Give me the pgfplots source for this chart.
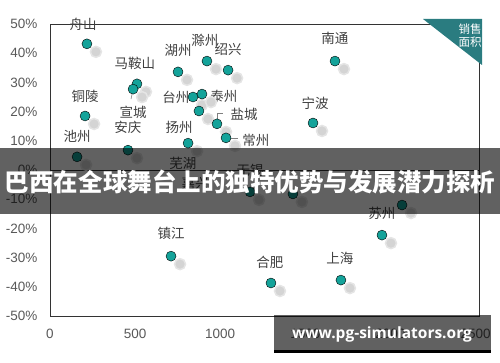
\documentclass[border=0pt]{standalone}
\usepackage{fontspec}
\usepackage{pgfplots}
\pgfplotsset{compat=1.18}
\setmainfont{Liberation Sans}
\newfontfamily\cjk{Noto Sans CJK SC}
\newfontfamily\wm{Open Sans}
\definecolor{dot}{HTML}{14A39A}
\definecolor{tri}{HTML}{2A7C80}
\definecolor{txt}{HTML}{404040}
\definecolor{ticktxt}{HTML}{595959}
\definecolor{shad}{HTML}{D4D4D4}
\tikzset{lbl/.style={font=\cjk\fontsize{13.5}{14}\selectfont, text=txt, inner sep=0pt}}
\pgfplotstableread{
x y
217 43.2
511 29.5
488 27.7
206 18.5
159 4.5
458 6.8
752 33.6
922 37.3
1046 34.2
840 25.0
893 26.0
875 20.2
981 15.8
1034 11.0
811 9.2
1674 37.3
1545 16.1
1950 -22.3
2068 -12.0
1298 -38.7
1709 -37.7
711 -29.5
1175 -7.5
1427 -8.2
}\pts
\begin{document}
\begin{tikzpicture}[x=1pt,y=1pt]
\useasboundingbox (0,0) rectangle (500,362);
\begin{axis}[at={(50pt,46pt)}, anchor=south west, scale only axis,
  width=429pt, height=292pt,
  xmin=0, xmax=2520, ymin=-50, ymax=50,
  xtick={0,500,1000,1500,2000,2500},
  xticklabels={0,500,1000,1500,2000,2500},
  ytick={-50,-40,-30,-20,-10,0,10,20,30,40,50},
  yticklabels={-50\%,-40\%,-30\%,-20\%,-10\%,0\%,10\%,20\%,30\%,40\%,50\%},
  major tick length=0pt,
  axis line style={draw=black!80, line width=0.9pt},
  tick label style={font=\fontsize{13.5}{13.5}\selectfont, text=ticktxt},
  /pgf/number format/assume math mode=true,
  xticklabel style={yshift=-10pt},
  yticklabel style={xshift=-9pt},
  extra y ticks={0}, extra y tick labels={},
  extra y tick style={grid=major, major grid style={draw=black!80, line width=0.9pt}},
  clip=false,
]
\addplot[only marks, mark=*, mark size=5.5pt, color=shad,
  mark options={xshift=9pt, yshift=-8pt, solid, fill=shad, draw=shad!60, line width=1.5pt}] table {\pts};
\addplot[only marks, mark=*, mark size=5pt, mark options={draw=none, fill=dot}] table {\pts};
% leader lines
\draw[gray, line width=0.6pt] (axis cs:488,27.7) -- (axis cs:476,24.3);
\draw[gray, line width=0.6pt] (axis cs:981,17.5) -- (axis cs:981,19.5) -- (axis cs:1016,19.5);
\draw[gray, line width=0.6pt] (axis cs:1063,11.0) -- (axis cs:1104,11.0);
% labels
\node[lbl] at (axis cs:194,49.7) {舟山};
\node[lbl] at (axis cs:499,36.6) {马鞍山};
\node[lbl] at (axis cs:488,19.9) {宣城};
\node[lbl] at (axis cs:206,25.3) {铜陵};
\node[lbl] at (axis cs:159,11.6) {池州};
\node[lbl] at (axis cs:458,14.7) {安庆};
\node[lbl] at (axis cs:752,40.8) {湖州};
\node[lbl] at (axis cs:910,44.5) {滁州};
\node[lbl] at (axis cs:1046,41.4) {绍兴};
\node[lbl] at (axis cs:740,25.0) {台州};
\node[lbl] at (axis cs:1022,25.3) {泰州};
\node[lbl] at (axis cs:1140,19.2) {盐城};
\node[lbl] at (axis cs:1210,10.3) {常州};
\node[lbl] at (axis cs:758,14.7) {扬州};
\node[lbl] at (axis cs:781,2.4) {芜湖};
\node[lbl] at (axis cs:1175,0) {无锡};
\node[lbl] at (axis cs:852,-4.5) {嘉兴};
\node[lbl] at (axis cs:1674,45.2) {南通};
\node[lbl] at (axis cs:1557,22.9) {宁波};
\node[lbl] at (axis cs:1950,-14.7) {苏州};
\node[lbl] at (axis cs:1292,-31.5) {合肥};
\node[lbl] at (axis cs:1703,-30.1) {上海};
\node[lbl] at (axis cs:711,-21.6) {镇江};
\end{axis}
% corner triangle
\fill[tri] (423,343) -- (482,343) -- (482,297) -- cycle;
\node[font=\cjk\fontsize{11.5}{13}\selectfont, text=white, align=center, inner sep=0pt] at (470,326) {销售\\面积};
% banner
\fill[black, opacity=0.62] (0,148) rectangle (500,214);
\node[font=\cjk\bfseries\fontsize{24.5}{26}\selectfont, text=white, inner sep=0pt] at (250,180) {巴西在全球舞台上的独特优势与发展潜力探析};
% watermark
\fill[black, opacity=0.62] (274,12) rectangle (491,47);
\fill[black] (274,9) rectangle (491,12);
\node[font=\wm\bfseries\fontsize{15.5}{16}\selectfont, text=white, inner sep=0pt] at (382,28) {www.pg-simulators.org};
\end{tikzpicture}
\end{document}
